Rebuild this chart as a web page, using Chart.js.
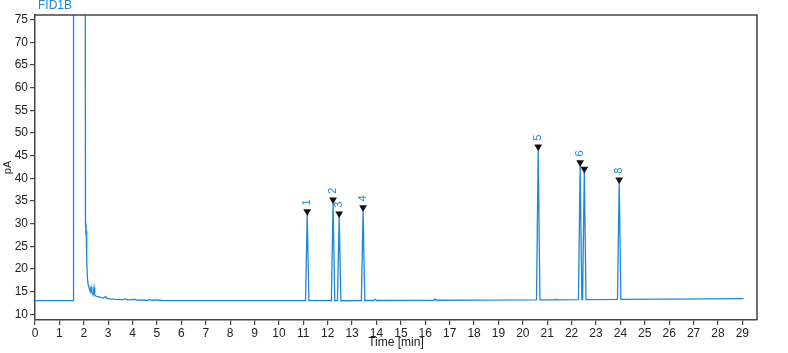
<!DOCTYPE html>
<html><head><meta charset="utf-8">
<script src="https://cdn.jsdelivr.net/npm/chart.js@4"></script>
<style>html,body{margin:0;padding:0;background:#fff}#wrap{width:788px;height:353px}</style>
</head><body><div id="wrap"><canvas id="c" width="788" height="353"></canvas></div>
<script>
// Chromatogram trace (time in min, signal in pA)
const timeMin = [0, 1.0, 1.56, 1.58, 2.04, 2.07, 2.09, 2.10, 2.12, 2.15, 2.18, 2.22, 2.26, 2.30, 2.33, 2.38, 2.42, 2.45, 2.50, 2.60, 2.70, 2.80, 2.90, 2.95, 3.10, 3.30, 3.60, 3.70, 3.80, 4.10, 4.20, 4.60, 4.70, 4.80, 5.00, 5.20, 6.0, 8.0, 10.0,
  11.09, 11.16, 11.23, 12.15, 12.22, 12.29, 12.40, 12.47, 12.54, 13.38, 13.45, 13.52, 13.90, 13.95, 14.0, 16.35, 16.40, 16.45, 18.0,
  20.56, 20.63, 20.70, 21.30, 21.35, 21.40, 22.28, 22.35, 22.42, 22.45, 22.52, 22.59, 23.88, 23.95, 24.02, 26.0, 29.05];
const signalPA = [13.0, 13.0, 13.0, 200, 200, 30, 27.5, 28.5, 22, 18, 16.5, 15.8, 15.0, 16.0, 14.8, 14.3, 15.9, 14.3, 14.0, 13.9, 13.7, 13.6, 13.9, 13.5, 13.4, 13.3, 13.25, 13.4, 13.2, 13.3, 13.15, 13.1, 13.25, 13.1, 13.2, 13.05, 13.0, 13.0, 13.0,
  13.0, 31.9, 13.0, 13.0, 34.5, 13.0, 13.0, 31.4, 13.0, 13.05, 32.8, 13.05, 13.05, 13.3, 13.05, 13.1, 13.4, 13.1, 13.15,
  13.2, 46.2, 13.2, 13.2, 13.35, 13.2, 13.25, 42.7, 13.25, 13.25, 41.3, 13.25, 13.3, 38.9, 13.3, 13.35, 13.45];
// Integrated peaks
const peakNames = ['1', '2', '3', '4', '5', '6', '', '8'];
const peakTimes = [11.16, 12.22, 12.47, 13.45, 20.63, 22.35, 22.52, 23.95];
const peakHeights = [31.9, 34.5, 31.4, 32.8, 46.2, 42.7, 41.3, 38.9];
// Axis ticks
const xTicks = Array.from({length: 30}, (_, i) => i);
const yTicks = [10, 15, 20, 25, 30, 35, 40, 45, 50, 55, 60, 65, 70, 75];

const BLUE = '#1e88d6';
const FONT = '"Liberation Sans", Arial, sans-serif';

const trace = timeMin.map((t, i) => ({x: t, y: signalPA[i]}));
const marks = peakTimes.map((t, i) => ({x: t, y: peakHeights[i] + 0.75}));

const deco = {
  id: 'deco',
  afterDatasetsDraw(chart) {
    const {ctx, chartArea: a, scales: {x, y}} = chart;
    ctx.save();
    ctx.strokeStyle = '#444';
    ctx.lineWidth = 1.5;
    ctx.beginPath();
    ctx.moveTo(a.left, a.top); ctx.lineTo(a.right, a.top); ctx.lineTo(a.right, a.bottom);
    ctx.stroke();
    // peak labels
    ctx.fillStyle = BLUE;
    ctx.font = '11px ' + FONT;
    ctx.textAlign = 'left';
    ctx.textBaseline = 'middle';
    peakNames.forEach((n, i) => {
      if (!n) return;
      const px = x.getPixelForValue(peakTimes[i]);
      const py = y.getPixelForValue(peakHeights[i]) - 9.5;
      ctx.save();
      ctx.translate(px, py);
      ctx.rotate(-Math.PI / 2);
      ctx.fillText(n, 0, 0);
      ctx.restore();
    });
    // title
    ctx.font = '12px ' + FONT;
    ctx.fillText('FID1B', 38, 6);
    // axis titles
    ctx.fillStyle = '#222';
    ctx.textAlign = 'center';
    ctx.font = '12px ' + FONT;
    ctx.fillText('Time [min]', (a.left + a.right) / 2, 343);
    ctx.save();
    ctx.translate(8, (a.top + a.bottom) / 2);
    ctx.rotate(-Math.PI / 2);
    ctx.font = '11px ' + FONT;
    ctx.fillText('pA', 0, 0);
    ctx.restore();
    ctx.restore();
  }
};

new Chart(document.getElementById('c'), {
  type: 'scatter',
  data: {
    datasets: [
      {data: trace, showLine: true, borderColor: BLUE, borderWidth: 1.3, pointRadius: 0, tension: 0, order: 2},
      {data: marks, showLine: false, pointStyle: 'triangle', rotation: 180, pointRadius: 4.5,
       backgroundColor: '#111', borderColor: '#111', borderWidth: 0, order: 1}
    ]
  },
  options: {
    responsive: false,
    animation: false,
    events: [],
    layout: {padding: {left: 0, top: 15, right: 31, bottom: 0}},
    plugins: {legend: {display: false}, tooltip: {enabled: false}},
    scales: {
      x: {
        type: 'linear', min: 0, max: 29.6,
        afterFit(s) { s.height = 33; },
        afterBuildTicks(s) { s.ticks = xTicks.map(v => ({value: v})); },
        grid: {drawOnChartArea: false, drawTicks: true, tickLength: 5, color: '#444', lineWidth: 1.2},
        border: {color: '#444', width: 1.5},
        ticks: {color: '#222', font: {family: FONT, size: 12}, padding: 1, maxRotation: 0, autoSkip: false}
      },
      y: {
        type: 'linear', min: 8.75, max: 76,
        afterFit(s) { s.width = 35; },
        afterBuildTicks(s) { s.ticks = yTicks.map(v => ({value: v})); },
        grid: {drawOnChartArea: false, drawTicks: true, tickLength: 5, color: '#444', lineWidth: 1.2},
        border: {color: '#444', width: 1.5},
        ticks: {color: '#222', font: {family: FONT, size: 12}, padding: 2, autoSkip: false}
      }
    }
  },
  plugins: [deco]
});
</script></body></html>
